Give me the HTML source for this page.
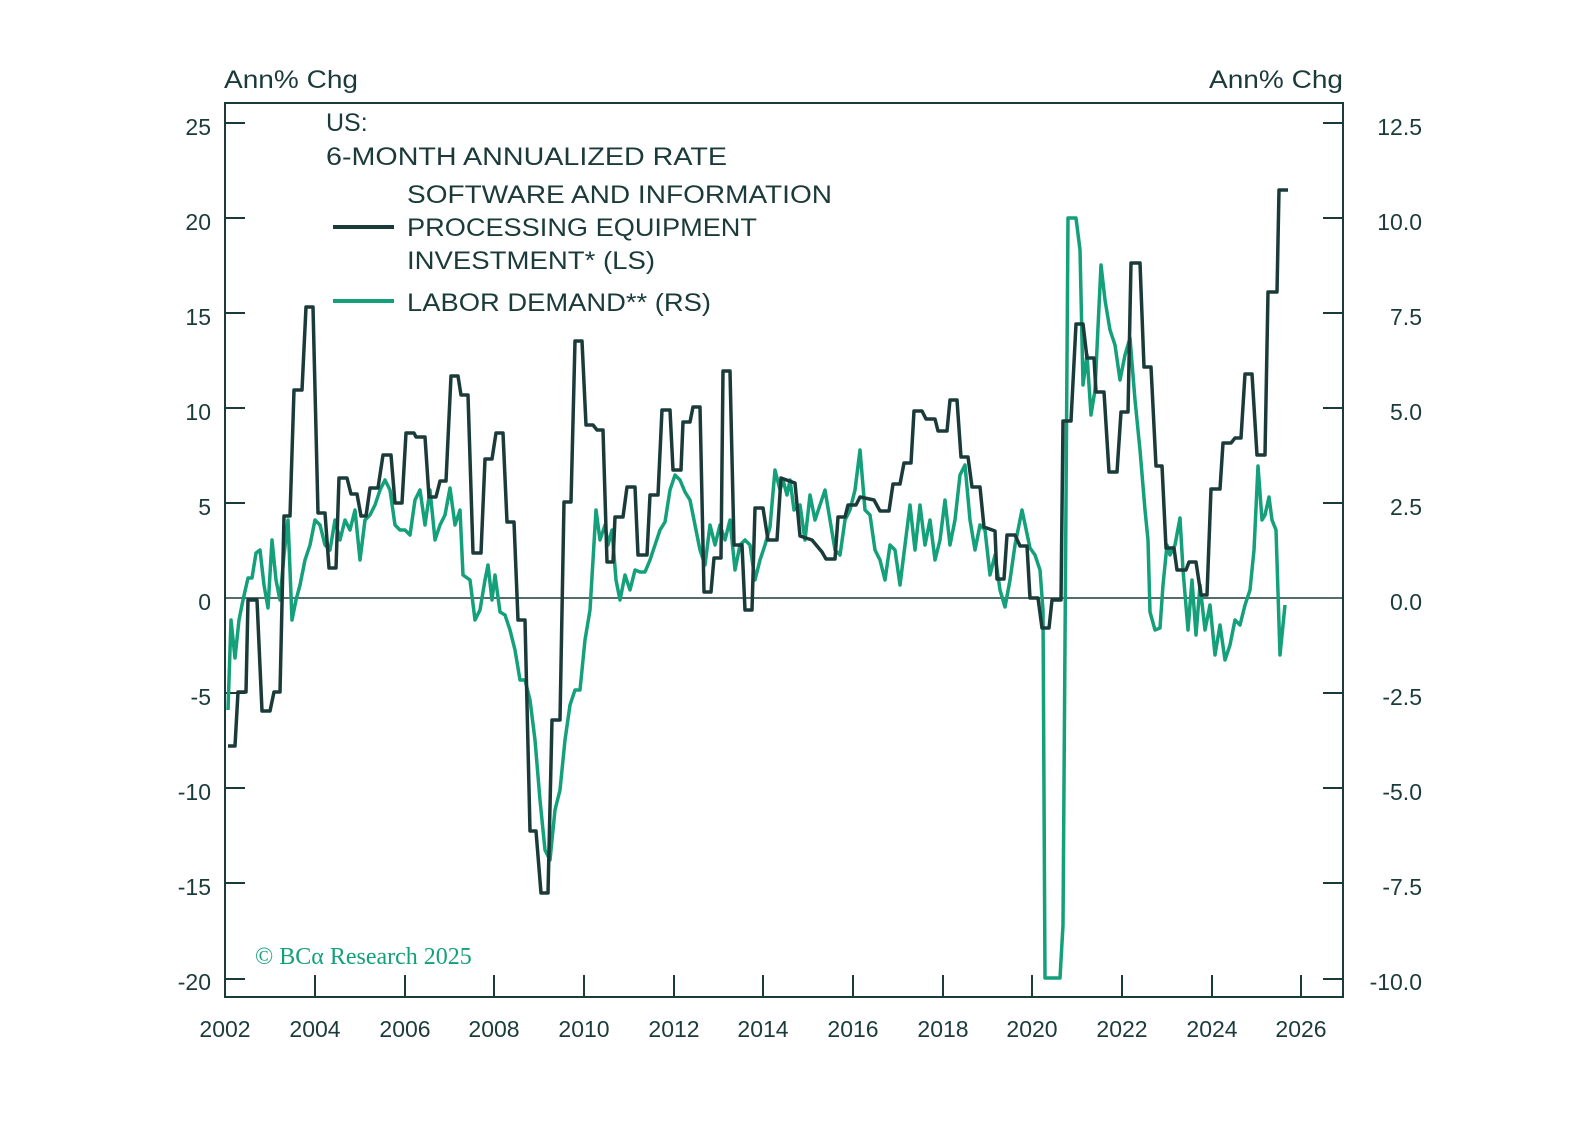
<!DOCTYPE html>
<html><head><meta charset="utf-8"><style>html,body{margin:0;padding:0;background:#fff}svg{display:block}</style></head>
<body>
<svg width="1588" height="1144" viewBox="0 0 1588 1144" xmlns="http://www.w3.org/2000/svg" font-family="Liberation Sans, sans-serif" fill="#1b3b3a">
<rect width="1588" height="1144" fill="#fff"/>
<g font-size="25">
<text x="224" y="88" textLength="134" lengthAdjust="spacingAndGlyphs">Ann% Chg</text>
<text x="1209" y="88" textLength="134" lengthAdjust="spacingAndGlyphs">Ann% Chg</text>
</g>
<rect x="225" y="103" width="1118" height="894" fill="none" stroke="#1b3b3a" stroke-width="2"/>
<line x1="225" y1="598" x2="1343" y2="598" stroke="#1b3b3a" stroke-width="1.6"/>
<g stroke="#1b3b3a" stroke-width="2">
<path d="M225 123h20M225 218h20M225 313h20M225 408h20M225 503h20M225 693h20M225 788h20M225 883h20M225 979h20"/>
<path d="M1323 123h20M1323 218h20M1323 313h20M1323 408h20M1323 503h20M1323 693h20M1323 788h20M1323 883h20M1323 979h20"/>
<path d="M225 997v-22M315 997v-22M405 997v-22M494 997v-22M584 997v-22M674 997v-22M763 997v-22M853 997v-22M943 997v-22M1032 997v-22M1122 997v-22M1212 997v-22M1301 997v-22"/>
</g>
<g font-size="23" text-anchor="end">
<text x="211" y="135">25</text><text x="211" y="230">20</text><text x="211" y="325">15</text><text x="211" y="420">10</text><text x="211" y="515">5</text><text x="211" y="610">0</text><text x="211" y="705">-5</text><text x="211" y="800">-10</text><text x="211" y="895">-15</text><text x="211" y="990">-20</text>
</g>
<g font-size="23" text-anchor="end">
<text x="1422" y="135">12.5</text><text x="1422" y="230">10.0</text><text x="1422" y="325">7.5</text><text x="1422" y="420">5.0</text><text x="1422" y="515">2.5</text><text x="1422" y="610">0.0</text><text x="1422" y="705">-2.5</text><text x="1422" y="800">-5.0</text><text x="1422" y="895">-7.5</text><text x="1422" y="990">-10.0</text>
</g>
<g font-size="23" text-anchor="middle">
<text x="225" y="1037">2002</text><text x="315" y="1037">2004</text><text x="405" y="1037">2006</text><text x="494" y="1037">2008</text><text x="584" y="1037">2010</text><text x="674" y="1037">2012</text><text x="763" y="1037">2014</text><text x="853" y="1037">2016</text><text x="943" y="1037">2018</text><text x="1032" y="1037">2020</text><text x="1122" y="1037">2022</text><text x="1212" y="1037">2024</text><text x="1301" y="1037">2026</text>
</g>
<g font-size="25">
<text x="326" y="131">US:</text>
<text x="326" y="165" textLength="401" lengthAdjust="spacingAndGlyphs">6-MONTH ANNUALIZED RATE</text>
<text x="407" y="203" textLength="425" lengthAdjust="spacingAndGlyphs">SOFTWARE AND INFORMATION</text>
<text x="407" y="236" textLength="350" lengthAdjust="spacingAndGlyphs">PROCESSING EQUIPMENT</text>
<text x="407" y="269" textLength="248" lengthAdjust="spacingAndGlyphs">INVESTMENT* (LS)</text>
<text x="407" y="311" textLength="304" lengthAdjust="spacingAndGlyphs">LABOR DEMAND** (RS)</text>
</g>
<line x1="333" y1="227" x2="394" y2="227" stroke="#1b3b3a" stroke-width="4"/>
<line x1="333" y1="301" x2="394" y2="301" stroke="#14a07a" stroke-width="4"/>
<text x="255" y="964" font-family="Liberation Serif, serif" font-size="24" fill="#14a07a">© BCα Research 2025</text>
<polyline fill="none" stroke="#14a07a" stroke-width="3.5" stroke-linejoin="round" points="228,710 231,620 235,658 239,620 243,600 248,578 252,578 256,553 260,550 264,585 268,608 272,540 276,580 280,600 284,555 288,520 292,620 296,600 300,585 305,560 310,545 315,520 320,525 325,545 330,550 335,520 340,540 345,520 350,530 355,510 360,560 365,520 370,515 375,505 380,490 385,480 390,490 395,525 400,530 405,530 410,535 415,500 420,490 425,525 430,490 435,540 440,525 445,515 450,488 455,525 460,510 463,575 470,580 475,620 480,610 485,580 488,565 492,600 495,575 500,612 505,615 510,630 515,650 520,680 525,680 530,700 535,740 540,800 545,850 550,860 555,810 560,790 565,740 570,705 575,690 580,690 585,640 590,610 596,510 600,540 605,525 608,545 612,530 616,580 620,600 625,575 630,590 635,570 640,572 645,572 650,560 655,545 660,530 665,522 670,490 675,475 680,480 685,492 690,500 695,525 700,550 705,565 710,525 715,545 720,525 725,540 730,520 735,570 740,545 745,540 750,545 755,580 760,560 765,545 770,527 775,470 780,490 783,480 787,495 790,480 794,510 800,505 805,540 810,495 815,520 820,505 825,490 830,520 835,550 840,555 845,520 850,510 855,490 860,450 865,510 870,515 875,550 880,560 885,580 890,545 895,550 900,585 905,545 910,505 915,550 920,505 925,545 930,520 935,560 940,540 945,500 950,545 955,520 960,475 965,465 970,520 975,550 980,525 985,530 990,575 995,555 1000,590 1005,607 1010,580 1015,545 1022,510 1030,548 1035,555 1040,570 1043,610 1045,978 1060,978 1063,925 1068,218 1076,218 1080,250 1083,385 1087,355 1091,415 1095,390 1101,265 1105,300 1110,330 1115,345 1120,380 1125,355 1130,338 1135,400 1140,450 1145,510 1148,540 1150,612 1155,630 1160,628 1163,585 1167,545 1170,555 1175,545 1180,518 1183,570 1188,630 1192,580 1196,635 1200,585 1205,630 1210,605 1215,655 1220,625 1225,660 1230,645 1235,620 1240,625 1245,605 1250,590 1254,550 1258,466 1262,520 1265,515 1269,497 1272,520 1276,530 1280,655 1285,605"/>
<polyline fill="none" stroke="#1b3b3a" stroke-width="3.5" stroke-linejoin="round" points="228,746 235,746 238,692 246,692 248,600 257,600 262,711 270,711 274,692 280,692 284,516 290,516 294,390 302,390 306,307 313,307 318,513 325,513 329,568 336,568 339,478 347,478 351,494 357,494 361,516 366,516 370,488 378,488 383,455 391,455 395,503 402,503 406,433 414,433 416,437 425,437 429,497 436,497 440,481 446,481 451,376 458,376 461,395 468,395 473,553 481,553 485,459 492,459 496,433 503,433 507,522 514,522 518,620 525,620 530,831 536,831 541,893 548,893 552,720 560,720 564,502 571,502 575,341 582,341 586,425 593,425 597,430 603,430 607,562 613,562 615,517 623,517 627,487 635,487 638,555 647,555 650,495 658,495 662,410 670,410 673,470 681,470 683,422 690,422 693,407 700,407 704,592 711,592 714,558 721,558 723,371 730,371 734,545 742,545 745,610 752,610 755,508 763,508 768,540 777,540 781,478 795,483 800,536 812,540 822,552 826,559 835,559 838,517 845,517 848,505 856,505 860,497 874,500 880,511 889,511 893,484 900,484 904,463 911,463 914,411 922,411 926,419 935,419 938,431 947,431 950,400 957,400 961,457 968,457 972,487 980,487 984,527 995,531 997,579 1004,579 1007,535 1015,535 1020,546 1027,546 1030,598 1038,598 1042,628 1049,628 1052,600 1061,600 1063,421 1071,421 1076,324 1083,324 1087,358 1094,358 1096,392 1104,392 1109,472 1117,472 1121,412 1128,412 1131,263 1140,263 1144,367 1151,367 1156,466 1162,466 1166,548 1174,548 1177,570 1186,570 1189,562 1196,562 1201,595 1207,595 1211,489 1220,489 1223,443 1231,443 1235,438 1241,438 1245,374 1252,374 1257,455 1265,455 1268,292 1277,292 1279,190 1288,190"/>
</svg>
</body></html>
